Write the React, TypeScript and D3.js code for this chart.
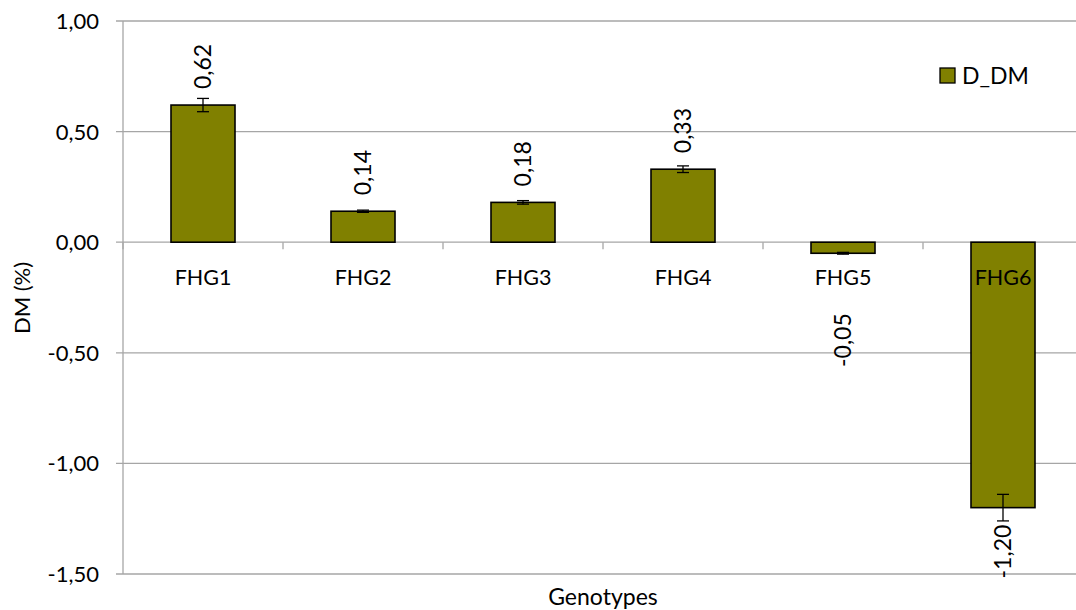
import React from "react";
import * as d3 from "d3";

const categories = ["FHG1", "FHG2", "FHG3", "FHG4", "FHG5", "FHG6"];
const values = [0.62, 0.14, 0.18, 0.33, -0.05, -1.2];
const errors = [0.03, 0.005, 0.008, 0.015, 0.004, 0.06];
const yTicks = [1.0, 0.5, 0.0, -0.5, -1.0, -1.5];
const seriesName = "D_DM";

const W = 1076;
const H = 610;
const FONT = "Lato, 'Open Sans', sans-serif";
const fmt = (v: number) => d3.format(".2f")(v).replace(".", ",").replace("−", "-");

export default function App() {
  const left = 123;
  const right = 1083;
  const top = 21;
  const bottom = 574;
  const x = d3.scaleBand<string>().domain(categories).range([left, right]).paddingInner(0.6).paddingOuter(0.3);
  const y = d3.scaleLinear().domain([-1.5, 1.0]).range([bottom, top]);
  const step = x.step();
  const grid = "#a6a6a6";
  const y0 = y(0);
  const tickPositions = d3.range(categories.length + 1).map((i) => left + i * step);

  return (
    <svg width={W} height={H} style={{ position: "absolute", left: 0, top: 0, background: "#fff" }}>
      {yTicks.map((t) => (
        <g key={t}>
          <line x1={left - 7} x2={W} y1={y(t)} y2={y(t)} stroke={grid} strokeWidth={1.3} />
          <text x={left - 24} y={y(t)} dy="0.36em" textAnchor="end" fontFamily={FONT} fontSize={22} fill="#000">
            {fmt(t)}
          </text>
        </g>
      ))}
      <line x1={left} x2={left} y1={top} y2={bottom} stroke={grid} strokeWidth={1.3} />
      {tickPositions.map((p, i) => (
        <line key={i} x1={p} x2={p} y1={y0} y2={y0 + 7} stroke={grid} strokeWidth={1.3} />
      ))}
      {categories.map((c, i) => {
        const v = values[i];
        const bx = x(c)!;
        const bw = x.bandwidth();
        const yTop = y(Math.max(v, 0));
        const yBot = y(Math.min(v, 0));
        return (
          <rect key={c} x={bx} y={yTop} width={bw} height={yBot - yTop} fill="#808000" stroke="#000" strokeWidth={1.6} />
        );
      })}
      {categories.map((c) => {
        const cx = x(c)! + x.bandwidth() / 2;
        return (
          <text key={c} x={cx} y={y0 + 43} textAnchor="middle" fontFamily={FONT} fontSize={21.5} fill="#000">
            {c}
          </text>
        );
      })}
      {categories.map((c, i) => {
        const v = values[i];
        const cx = x(c)! + x.bandwidth() / 2;
        const eHi = y(v + errors[i]);
        const eLo = y(v - errors[i]);
        return (
          <g key={c} stroke="#000" strokeWidth={1.3}>
            <line x1={cx} x2={cx} y1={eHi} y2={eLo} />
            <line x1={cx - 6} x2={cx + 6} y1={eHi} y2={eHi} />
            <line x1={cx - 6} x2={cx + 6} y1={eLo} y2={eLo} />
          </g>
        );
      })}
      {categories.map((c, i) => {
        const v = values[i];
        const cx = x(c)! + x.bandwidth() / 2;
        if (v >= 0) {
          const ly = y(v) - 16;
          return (
            <text key={c} transform={`translate(${cx},${ly}) rotate(-90)`} dy="0.36em" textAnchor="start" fontFamily={FONT} fontSize={23} fill="#000">
              {fmt(v)}
            </text>
          );
        }
        const ly = Math.max(y(v) + 17, y0 + 71);
        return (
          <text key={c} transform={`translate(${cx},${ly}) rotate(-90)`} dy="0.36em" textAnchor="end" fontFamily={FONT} fontSize={23} fill="#000">
            {fmt(v)}
          </text>
        );
      })}
      <rect x={940} y={68} width={15} height={15} fill="#808000" stroke="#000" strokeWidth={1.3} />
      <text x={962} y={84} fontFamily={FONT} fontSize={23} fill="#000">
        {seriesName}
      </text>
      <text transform={`translate(30,298) rotate(-90)`} textAnchor="middle" fontFamily={FONT} fontSize={22} fill="#000">
        DM (%)
      </text>
      <text x={(left + right) / 2} y={605} textAnchor="middle" fontFamily={FONT} fontSize={23} fill="#000">
        Genotypes
      </text>
    </svg>
  );
}
